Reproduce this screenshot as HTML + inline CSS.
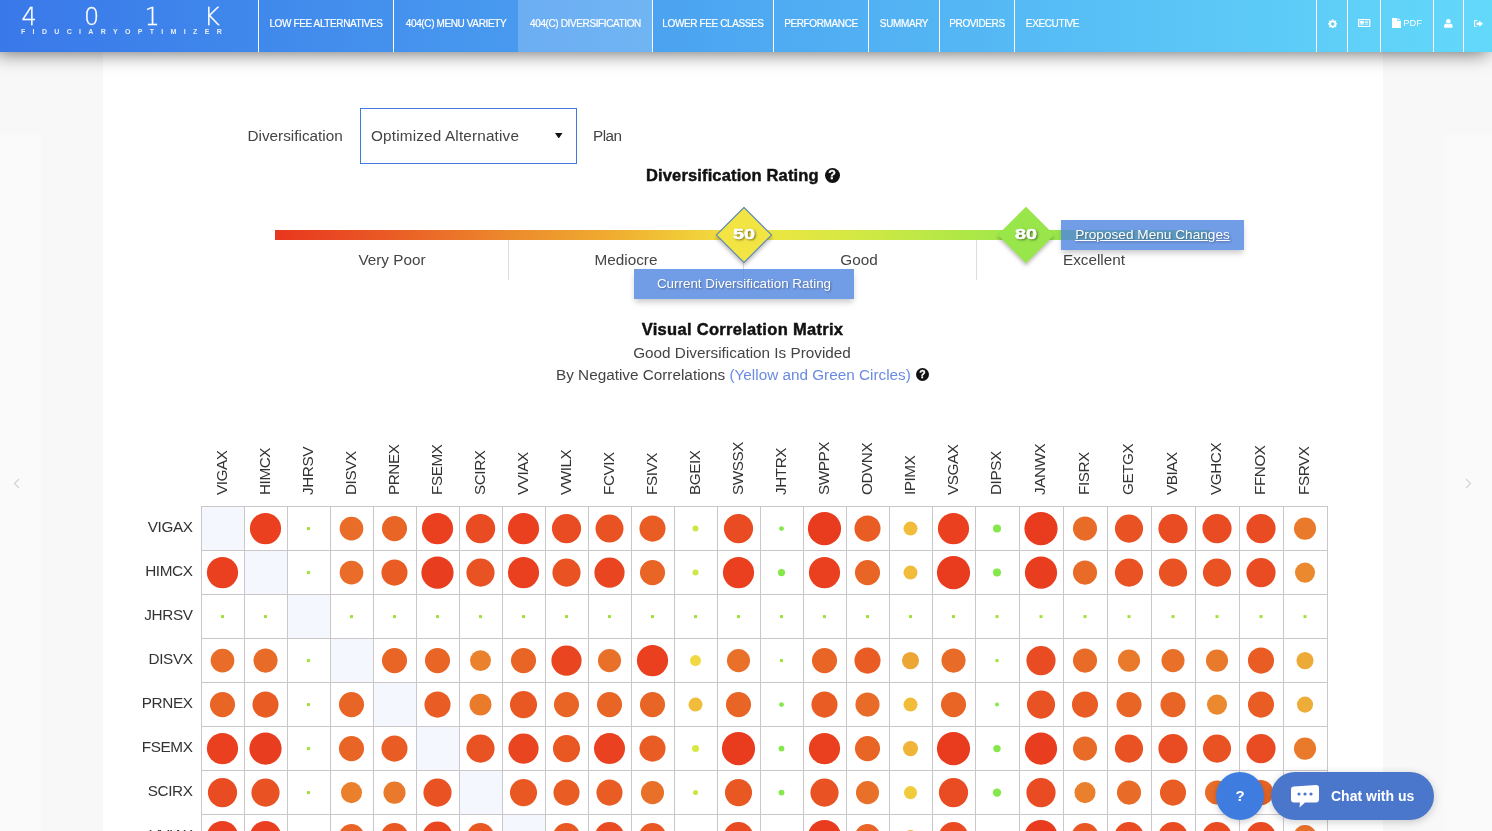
<!DOCTYPE html>
<html lang="en">
<head>
<meta charset="utf-8">
<title>401K Fiduciary Optimizer - 404(c) Diversification</title>
<style>
html,body{margin:0;padding:0;}
body{width:1492px;height:831px;overflow:hidden;position:relative;background:#f8f8f8;font-family:"Liberation Sans",sans-serif;color:#444;}
.abs{position:absolute;}
#page{position:absolute;left:103px;top:0;width:1280px;height:831px;background:#fff;}
#lp{position:absolute;left:0;top:135px;width:41px;height:696px;background:#fafafa;}
#rp{position:absolute;left:1444px;top:135px;width:48px;height:696px;background:#fafafa;}
#hdr{position:absolute;left:0;top:0;width:1492px;height:52px;background:linear-gradient(90deg,#3978e9 0%,#63d9fa 100%);box-shadow:-4px 0 20px 0 rgba(0,0,0,.66);z-index:10;}
.logo1{position:absolute;left:0;top:2px;font-family:"DejaVu Sans","Liberation Sans",sans-serif;font-weight:200;font-size:24px;line-height:30px;color:#fff;white-space:nowrap;-webkit-text-stroke:.3px #fff;}
.logo1 span{position:absolute;top:0;}
.logo2{position:absolute;left:21px;top:27px;font-size:7px;line-height:10px;font-weight:bold;color:#e8eefc;letter-spacing:7.34px;white-space:nowrap;}
.nv{position:absolute;top:0;height:52px;box-sizing:border-box;border-left:1px solid #fff;color:#fff;font-size:10px;line-height:47px;text-align:center;white-space:nowrap;letter-spacing:-0.38px;-webkit-text-stroke:.2px #fff;}
.nv.act{background:rgba(255,255,255,.2);border-left-color:transparent;}
.ic{position:absolute;top:0;height:52px;box-sizing:border-box;border-left:1px solid #fff;}
.ic svg{position:absolute;}
.t16{font-size:15.3px;line-height:20px;white-space:nowrap;color:#444;}
.hd{font-weight:bold;font-size:16.5px;line-height:20px;color:#111;white-space:nowrap;-webkit-text-stroke:.45px #111;}
.sel{position:absolute;left:360px;top:108px;width:217px;height:56px;box-sizing:border-box;border:1px solid #3f7ad8;background:#fff;}
#bar{position:absolute;left:275px;top:230px;width:936px;height:10px;background:linear-gradient(90deg,#e8361f 0%,#ea5a25 12%,#ec8a2c 25%,#f0b030 37%,#f1d83c 47%,#eee640 52%,#d4e843 62%,#b4e846 72%,#9ce84a 80%,#92e84c 100%);}
.dv{position:absolute;top:240px;width:1px;height:40px;background:#ddd;}
.dia{position:absolute;width:40px;height:40px;box-sizing:border-box;transform:rotate(45deg);box-shadow:2px 2px 4px rgba(0,0,0,.25);}
.num{position:absolute;width:60px;text-align:center;font-weight:bold;font-size:14.8px;line-height:20px;color:#fff;text-shadow:1px 1px 2px rgba(0,0,0,.6);-webkit-text-stroke:.5px #fff;transform:scaleX(1.34);}
.tag{position:absolute;height:30px;background:rgba(77,131,224,.8);color:#fff;font-size:13.4px;line-height:29px;text-align:center;white-space:nowrap;text-shadow:1px 1px 2px rgba(0,0,0,.35);box-shadow:0 4px 6px -1px rgba(0,0,0,.22);}
.ch{position:absolute;top:494.5px;letter-spacing:-.45px;font-size:15.3px;line-height:22px;color:#333;white-space:nowrap;transform:rotate(-90deg);transform-origin:0 0;}
.rh{position:absolute;left:102.5px;width:90px;text-align:right;letter-spacing:-.4px;font-size:15.3px;line-height:22px;color:#333;white-space:nowrap;}
.mx{position:absolute;}
.q{position:absolute;width:15px;height:15px;border-radius:50%;background:#111;color:#fff;font-weight:bold;font-size:12.5px;line-height:15.5px;text-align:center;-webkit-text-stroke:.3px #fff;}
#help{position:absolute;left:1216px;top:772px;width:48px;height:48px;border-radius:50%;background:#3f7ce0;color:#fff;font-weight:bold;font-size:15px;line-height:48px;text-align:center;box-shadow:0 2px 6px rgba(0,0,0,.2);z-index:5;}
#chat{position:absolute;left:1271px;top:772px;width:163px;height:48px;border-radius:24px;background:#4a76cc;color:#fff;box-shadow:0 2px 8px rgba(0,0,0,.2);z-index:5;}
#chat span{position:absolute;left:60px;top:14px;font-weight:bold;font-size:14px;line-height:20px;white-space:nowrap;}
</style>
</head>
<body>
<div id="lp"></div><div id="rp"></div>
<div id="page"></div>

<!-- header -->
<div id="hdr">
  <div class="logo1"><span style="left:21.5px">4</span><span style="left:84px">0</span><span style="left:144.5px">1</span><span style="left:204px">K</span></div>
  <div class="logo2">FIDUCIARYOPTIMIZER</div>
<div class="nv" style="left:258px;width:135px"><span>LOW FEE ALTERNATIVES</span></div>
<div class="nv" style="left:393px;width:125px"><span>404(C) MENU VARIETY</span></div>
<div class="nv act" style="left:518px;width:134px"><span>404(C) DIVERSIFICATION</span></div>
<div class="nv" style="left:652px;width:121px"><span>LOWER FEE CLASSES</span></div>
<div class="nv" style="left:773px;width:95px"><span>PERFORMANCE</span></div>
<div class="nv" style="left:868px;width:71px"><span>SUMMARY</span></div>
<div class="nv" style="left:939px;width:75px"><span>PROVIDERS</span></div>
<div class="nv" style="left:1014px;width:76px"><span>EXECUTIVE</span></div>
  <div class="ic" style="left:1316px;width:31px"><svg style="left:10.6px;top:18.600px" width="9.400" height="9.400" viewBox="0 0 24 24"><path fill="#fff" fill-rule="evenodd" d="M10 1h4l.6 3.2 1.9.8L19.200 3.200 21.800 5.800 20 8.500l.8 1.900L24 11v3l-3.200.600-.8 1.900 1.800 2.700-2.600 2.600-2.700-1.800-1.900.8L14 24h-4l-.6-3.200-1.900-.8-2.700 1.800-2.600-2.600L4 16.500l-.8-1.900L0 14v-3l3.200-.6.800-1.900L2.200 5.800 4.800 3.200 7.500 5l1.900-.8zM12 8a4.500 4.500 0 1 0 0 9 4.500 4.500 0 0 0 0-9z"/></svg></div>
  <div class="ic" style="left:1347px;width:33px"><svg style="left:10.4px;top:18.900px" width="12.400" height="8.200" viewBox="0 0 28 22" preserveAspectRatio="none"><path fill="#fff" fill-rule="evenodd" d="M2 0h24a2 2 0 0 1 2 2v18a2 2 0 0 1-2 2H2a2 2 0 0 1-2-2V2a2 2 0 0 1 2-2zm1 3v16h22V3zm2 2h8v8H5zm10 0h8v2h-8zm0 4h8v2h-8zm0 4h8v2h-8zM5 15h8v2H5z"/></svg></div>
  <div class="ic" style="left:1380px;width:53px"><svg style="left:10.6px;top:18.300px" width="9" height="10" viewBox="0 0 20 24" preserveAspectRatio="none"><path fill="#fff" d="M0 0h12v7h8v17H0zM14 0l6 5.500h-6z"/></svg><span style="position:absolute;left:22.3px;top:17px;color:#fff;font-size:9.3px;line-height:13px">PDF</span></div>
  <div class="ic" style="left:1433px;width:30px"><svg style="left:9.900px;top:18.800px" width="8.700" height="8.800" viewBox="0 0 22 24" preserveAspectRatio="none"><path fill="#fff" d="M11 0a6 6 0 0 1 0 12 6 6 0 0 1 0-12zM5 12q6 4 12 0q5 1 5 8v2q0 2-2 2H2q-2 0-2-2v-2q0-7 5-8z"/></svg></div>
  <div class="ic" style="left:1463px;width:29px"><svg style="left:10.2px;top:19.500px" width="9" height="7.500" viewBox="0 0 24 22" preserveAspectRatio="none"><path fill="#fff" d="M9 0v3H4q-1 0-1 1v14q0 1 1 1h5v3H3q-3 0-3-3V3q0-3 3-3zM14 2l10 9-10 9v-5H7V7h7z"/></svg></div>
</div>

<!-- controls -->
<div class="abs t16" style="left:247.5px;top:126px">Diversification</div>
<div class="sel"><div class="abs t16" style="left:10px;top:17px;letter-spacing:.17px">Optimized Alternative</div><svg class="abs" style="left:194px;top:23.500px" width="7.500" height="5.500" viewBox="0 0 8 7" preserveAspectRatio="none"><path d="M0 0h8L4 7z" fill="#111"/></svg></div>
<div class="abs t16" style="left:593px;top:126px;letter-spacing:-.5px">Plan</div>

<div class="abs hd" id="h1" style="left:646px;top:165px;letter-spacing:.14px">Diversification Rating</div>
<div class="q" style="left:824.5px;top:167.5px">?</div>

<!-- rating bar -->
<div id="bar"></div>
<div class="dv" style="left:508px"></div>
<div class="dv" style="left:743px"></div>
<div class="dv" style="left:976px"></div>
<div class="abs t16" style="left:275px;width:234px;top:250px;text-align:center">Very Poor</div>
<div class="abs t16" style="left:509px;width:234px;top:250px;text-align:center">Mediocre</div>
<div class="abs t16" style="left:743px;width:232px;top:250px;text-align:center">Good</div>
<div class="abs t16" style="left:977px;width:234px;top:250px;text-align:center">Excellent</div>

<div class="tag" style="left:634px;top:269px;width:220px">Current Diversification Rating</div>
<div class="tag" style="left:1061px;top:220px;width:183px;font-size:13.65px;text-decoration:underline">Proposed Menu Changes</div>

<div class="dia" style="left:724px;top:214.500px;background:#f2e442;border:1px solid #4a7fd0"></div>
<div class="num" style="left:714.2px;top:223.600px">50</div>
<div class="dia" style="left:1006px;top:215px;background:#98e64a"></div>
<div class="num" style="left:996px;top:223.600px">80</div>

<!-- matrix heading -->
<div class="abs hd" id="h2" style="left:442.500px;width:600px;top:319.300px;text-align:center;letter-spacing:.3px">Visual Correlation Matrix</div>
<div class="abs t16" style="left:442px;width:600px;top:343px;text-align:center">Good Diversification Is Provided</div>
<div class="abs t16" style="left:556px;top:365px">By Negative Correlations <span style="color:#6a8ae2">(Yellow and Green Circles)</span></div>
<div class="q" style="left:916px;top:367.500px;width:13px;height:13px;line-height:13px;font-size:10.5px">?</div>

<!-- matrix -->
<div class="ch" style="left:210.7px">VIGAX</div>
<div class="ch" style="left:253.7px">HIMCX</div>
<div class="ch" style="left:296.7px">JHRSV</div>
<div class="ch" style="left:339.7px">DISVX</div>
<div class="ch" style="left:382.7px">PRNEX</div>
<div class="ch" style="left:425.7px">FSEMX</div>
<div class="ch" style="left:468.7px">SCIRX</div>
<div class="ch" style="left:511.7px">VVIAX</div>
<div class="ch" style="left:554.7px">VWILX</div>
<div class="ch" style="left:597.7px">FCVIX</div>
<div class="ch" style="left:640.7px">FSIVX</div>
<div class="ch" style="left:683.7px">BGEIX</div>
<div class="ch" style="left:726.7px">SWSSX</div>
<div class="ch" style="left:769.7px">JHTRX</div>
<div class="ch" style="left:812.7px">SWPPX</div>
<div class="ch" style="left:855.7px">ODVNX</div>
<div class="ch" style="left:898.7px">IPIMX</div>
<div class="ch" style="left:941.7px">VSGAX</div>
<div class="ch" style="left:985.2px">DIPSX</div>
<div class="ch" style="left:1029.2px">JANWX</div>
<div class="ch" style="left:1073.2px">FISRX</div>
<div class="ch" style="left:1117.2px">GETGX</div>
<div class="ch" style="left:1161.2px">VBIAX</div>
<div class="ch" style="left:1205.2px">VGHCX</div>
<div class="ch" style="left:1249.2px">FFNOX</div>
<div class="ch" style="left:1293.2px">FSRVX</div>
<div class="rh" style="top:516.3px">VIGAX</div>
<div class="rh" style="top:560.3px">HIMCX</div>
<div class="rh" style="top:604.3px">JHRSV</div>
<div class="rh" style="top:648.3px">DISVX</div>
<div class="rh" style="top:692.3px">PRNEX</div>
<div class="rh" style="top:736.3px">FSEMX</div>
<div class="rh" style="top:780.3px">SCIRX</div>
<div class="rh" style="top:824.3px">VVIAX</div>
<svg class="mx" style="left:201px;top:506px" width="1127" height="325" viewBox="0 0 1127 325">
<rect x="1" y="1" width="42" height="43" fill="#f4f8fe"/>
<rect x="44" y="45" width="42" height="43" fill="#f4f8fe"/>
<rect x="87" y="89" width="42" height="43" fill="#f4f8fe"/>
<rect x="130" y="133" width="42" height="43" fill="#f4f8fe"/>
<rect x="173" y="177" width="42" height="43" fill="#f4f8fe"/>
<rect x="216" y="221" width="42" height="43" fill="#f4f8fe"/>
<rect x="259" y="265" width="42" height="43" fill="#f4f8fe"/>
<rect x="302" y="309" width="42" height="43" fill="#f4f8fe"/>
<rect x="0" y="0" width="1" height="325" fill="#cbc6c8"/>
<rect x="43" y="0" width="1" height="325" fill="#cbc6c8"/>
<rect x="86" y="0" width="1" height="325" fill="#cbc6c8"/>
<rect x="129" y="0" width="1" height="325" fill="#cbc6c8"/>
<rect x="172" y="0" width="1" height="325" fill="#cbc6c8"/>
<rect x="215" y="0" width="1" height="325" fill="#cbc6c8"/>
<rect x="258" y="0" width="1" height="325" fill="#cbc6c8"/>
<rect x="301" y="0" width="1" height="325" fill="#cbc6c8"/>
<rect x="344" y="0" width="1" height="325" fill="#cbc6c8"/>
<rect x="387" y="0" width="1" height="325" fill="#cbc6c8"/>
<rect x="430" y="0" width="1" height="325" fill="#cbc6c8"/>
<rect x="473" y="0" width="1" height="325" fill="#cbc6c8"/>
<rect x="516" y="0" width="1" height="325" fill="#cbc6c8"/>
<rect x="559" y="0" width="1" height="325" fill="#cbc6c8"/>
<rect x="602" y="0" width="1" height="325" fill="#cbc6c8"/>
<rect x="645" y="0" width="1" height="325" fill="#cbc6c8"/>
<rect x="688" y="0" width="1" height="325" fill="#cbc6c8"/>
<rect x="731" y="0" width="1" height="325" fill="#cbc6c8"/>
<rect x="774" y="0" width="1" height="325" fill="#cbc6c8"/>
<rect x="818" y="0" width="1" height="325" fill="#cbc6c8"/>
<rect x="862" y="0" width="1" height="325" fill="#cbc6c8"/>
<rect x="906" y="0" width="1" height="325" fill="#cbc6c8"/>
<rect x="950" y="0" width="1" height="325" fill="#cbc6c8"/>
<rect x="994" y="0" width="1" height="325" fill="#cbc6c8"/>
<rect x="1038" y="0" width="1" height="325" fill="#cbc6c8"/>
<rect x="1082" y="0" width="1" height="325" fill="#cbc6c8"/>
<rect x="1126" y="0" width="1" height="325" fill="#cbc6c8"/>
<rect x="0" y="0" width="1127" height="1" fill="#cbc6c8"/>
<rect x="0" y="44" width="1127" height="1" fill="#cbc6c8"/>
<rect x="0" y="88" width="1127" height="1" fill="#cbc6c8"/>
<rect x="0" y="132" width="1127" height="1" fill="#cbc6c8"/>
<rect x="0" y="176" width="1127" height="1" fill="#cbc6c8"/>
<rect x="0" y="220" width="1127" height="1" fill="#cbc6c8"/>
<rect x="0" y="264" width="1127" height="1" fill="#cbc6c8"/>
<rect x="0" y="308" width="1127" height="1" fill="#cbc6c8"/>
<circle cx="64.5" cy="22.6" r="15.60" fill="#ea4020"/>
<rect x="106.0" y="21.1" width="3" height="3" fill="#9fe33a"/>
<circle cx="150.5" cy="22.6" r="11.85" fill="#e96d28"/>
<circle cx="193.5" cy="22.6" r="12.55" fill="#e96526"/>
<circle cx="236.5" cy="22.6" r="15.60" fill="#ea4020"/>
<circle cx="279.5" cy="22.6" r="14.70" fill="#e94b22"/>
<circle cx="322.5" cy="22.6" r="15.60" fill="#ea4020"/>
<circle cx="365.5" cy="22.6" r="14.60" fill="#e94c22"/>
<circle cx="408.5" cy="22.6" r="14.00" fill="#e95323"/>
<circle cx="451.5" cy="22.6" r="13.05" fill="#e95d24"/>
<circle cx="494.5" cy="22.6" r="3.00" fill="#cfe645"/>
<circle cx="537.5" cy="22.6" r="14.60" fill="#e94c22"/>
<circle cx="580.5" cy="22.6" r="2.40" fill="#84e84a"/>
<circle cx="623.5" cy="22.6" r="16.60" fill="#e93b1e"/>
<circle cx="666.5" cy="22.6" r="13.05" fill="#e95d24"/>
<circle cx="709.5" cy="22.6" r="7.00" fill="#f0bc3a"/>
<circle cx="752.5" cy="22.6" r="15.60" fill="#ea4020"/>
<circle cx="796.0" cy="22.6" r="4.00" fill="#84e84a"/>
<circle cx="840.0" cy="22.6" r="16.60" fill="#e93b1e"/>
<circle cx="884.0" cy="22.6" r="12.05" fill="#e96b28"/>
<circle cx="928.0" cy="22.6" r="14.10" fill="#e95223"/>
<circle cx="972.0" cy="22.6" r="14.60" fill="#e94c22"/>
<circle cx="1016.0" cy="22.6" r="14.60" fill="#e94c22"/>
<circle cx="1060.0" cy="22.6" r="14.60" fill="#e94c22"/>
<circle cx="1104.0" cy="22.6" r="11.05" fill="#ea7a2b"/>
<circle cx="21.5" cy="66.6" r="15.60" fill="#ea4020"/>
<rect x="106.0" y="65.1" width="3" height="3" fill="#9fe33a"/>
<circle cx="150.5" cy="66.6" r="11.85" fill="#e96d28"/>
<circle cx="193.5" cy="66.6" r="13.05" fill="#e95d24"/>
<circle cx="236.5" cy="66.6" r="16.10" fill="#e93d1f"/>
<circle cx="279.5" cy="66.6" r="14.10" fill="#e95223"/>
<circle cx="322.5" cy="66.6" r="15.60" fill="#ea4020"/>
<circle cx="365.5" cy="66.6" r="14.10" fill="#e95223"/>
<circle cx="408.5" cy="66.6" r="15.10" fill="#e94521"/>
<circle cx="451.5" cy="66.6" r="12.55" fill="#e96526"/>
<circle cx="494.5" cy="66.6" r="3.00" fill="#cfe645"/>
<circle cx="537.5" cy="66.6" r="15.60" fill="#ea4020"/>
<circle cx="580.5" cy="66.6" r="3.60" fill="#84e84a"/>
<circle cx="623.5" cy="66.6" r="15.60" fill="#ea4020"/>
<circle cx="666.5" cy="66.6" r="12.55" fill="#e96526"/>
<circle cx="709.5" cy="66.6" r="7.00" fill="#f0bc3a"/>
<circle cx="752.5" cy="66.6" r="16.60" fill="#e93b1e"/>
<circle cx="796.0" cy="66.6" r="4.00" fill="#84e84a"/>
<circle cx="840.0" cy="66.6" r="16.10" fill="#e93d1f"/>
<circle cx="884.0" cy="66.6" r="12.05" fill="#e96b28"/>
<circle cx="928.0" cy="66.6" r="14.10" fill="#e95223"/>
<circle cx="972.0" cy="66.6" r="14.10" fill="#e95223"/>
<circle cx="1016.0" cy="66.6" r="14.10" fill="#e95223"/>
<circle cx="1060.0" cy="66.6" r="14.60" fill="#e94c22"/>
<circle cx="1104.0" cy="66.6" r="10.05" fill="#eb892e"/>
<rect x="20.0" y="109.1" width="3" height="3" fill="#9fe33a"/>
<rect x="63.0" y="109.1" width="3" height="3" fill="#9fe33a"/>
<rect x="149.0" y="109.1" width="3" height="3" fill="#9fe33a"/>
<rect x="192.0" y="109.1" width="3" height="3" fill="#9fe33a"/>
<rect x="235.0" y="109.1" width="3" height="3" fill="#9fe33a"/>
<rect x="278.0" y="109.1" width="3" height="3" fill="#9fe33a"/>
<rect x="321.0" y="109.1" width="3" height="3" fill="#9fe33a"/>
<rect x="364.0" y="109.1" width="3" height="3" fill="#9fe33a"/>
<rect x="407.0" y="109.1" width="3" height="3" fill="#9fe33a"/>
<rect x="450.0" y="109.1" width="3" height="3" fill="#9fe33a"/>
<rect x="493.0" y="109.1" width="3" height="3" fill="#9fe33a"/>
<rect x="536.0" y="109.1" width="3" height="3" fill="#9fe33a"/>
<rect x="579.0" y="109.1" width="3" height="3" fill="#9fe33a"/>
<rect x="622.0" y="109.1" width="3" height="3" fill="#9fe33a"/>
<rect x="665.0" y="109.1" width="3" height="3" fill="#9fe33a"/>
<rect x="708.0" y="109.1" width="3" height="3" fill="#9fe33a"/>
<rect x="751.0" y="109.1" width="3" height="3" fill="#9fe33a"/>
<rect x="794.5" y="109.1" width="3" height="3" fill="#9fe33a"/>
<rect x="838.5" y="109.1" width="3" height="3" fill="#9fe33a"/>
<rect x="882.5" y="109.1" width="3" height="3" fill="#9fe33a"/>
<rect x="926.5" y="109.1" width="3" height="3" fill="#9fe33a"/>
<rect x="970.5" y="109.1" width="3" height="3" fill="#9fe33a"/>
<rect x="1014.5" y="109.1" width="3" height="3" fill="#9fe33a"/>
<rect x="1058.5" y="109.1" width="3" height="3" fill="#9fe33a"/>
<rect x="1102.5" y="109.1" width="3" height="3" fill="#9fe33a"/>
<circle cx="21.5" cy="154.6" r="11.85" fill="#e96d28"/>
<circle cx="64.5" cy="154.6" r="12.05" fill="#e96b28"/>
<rect x="106.0" y="153.1" width="3" height="3" fill="#9fe33a"/>
<circle cx="193.5" cy="154.6" r="12.55" fill="#e96526"/>
<circle cx="236.5" cy="154.6" r="12.55" fill="#e96526"/>
<circle cx="279.5" cy="154.6" r="10.45" fill="#ea812c"/>
<circle cx="322.5" cy="154.6" r="12.55" fill="#e96526"/>
<circle cx="365.5" cy="154.6" r="15.10" fill="#e94521"/>
<circle cx="408.5" cy="154.6" r="11.55" fill="#e97029"/>
<circle cx="451.5" cy="154.6" r="15.60" fill="#ea4020"/>
<circle cx="494.5" cy="154.6" r="5.50" fill="#f0d840"/>
<circle cx="537.5" cy="154.6" r="11.55" fill="#e97029"/>
<rect x="579.0" y="153.1" width="3" height="3" fill="#9fe33a"/>
<circle cx="623.5" cy="154.6" r="12.55" fill="#e96526"/>
<circle cx="666.5" cy="154.6" r="13.05" fill="#e95d24"/>
<circle cx="709.5" cy="154.6" r="8.55" fill="#eca634"/>
<circle cx="752.5" cy="154.6" r="12.05" fill="#e96b28"/>
<rect x="794.5" y="153.1" width="3" height="3" fill="#9fe33a"/>
<circle cx="840.0" cy="154.6" r="14.60" fill="#e94c22"/>
<circle cx="884.0" cy="154.6" r="12.05" fill="#e96b28"/>
<circle cx="928.0" cy="154.6" r="11.05" fill="#ea7a2b"/>
<circle cx="972.0" cy="154.6" r="11.55" fill="#e97029"/>
<circle cx="1016.0" cy="154.6" r="11.05" fill="#ea7a2b"/>
<circle cx="1060.0" cy="154.6" r="13.05" fill="#e95d24"/>
<circle cx="1104.0" cy="154.6" r="8.55" fill="#eeaa36"/>
<circle cx="21.5" cy="198.6" r="12.55" fill="#e96526"/>
<circle cx="64.5" cy="198.6" r="13.05" fill="#e95d24"/>
<rect x="106.0" y="197.1" width="3" height="3" fill="#9fe33a"/>
<circle cx="150.5" cy="198.6" r="12.55" fill="#e96526"/>
<circle cx="236.5" cy="198.6" r="13.05" fill="#e95d24"/>
<circle cx="279.5" cy="198.6" r="10.95" fill="#ea7b2b"/>
<circle cx="322.5" cy="198.6" r="13.55" fill="#e95823"/>
<circle cx="365.5" cy="198.6" r="12.55" fill="#e96526"/>
<circle cx="408.5" cy="198.6" r="12.55" fill="#e96526"/>
<circle cx="451.5" cy="198.6" r="12.55" fill="#e96526"/>
<circle cx="494.5" cy="198.6" r="7.00" fill="#f0bc3a"/>
<circle cx="537.5" cy="198.6" r="12.55" fill="#e96526"/>
<circle cx="580.5" cy="198.6" r="2.40" fill="#84e84a"/>
<circle cx="623.5" cy="198.6" r="13.05" fill="#e95d24"/>
<circle cx="666.5" cy="198.6" r="12.05" fill="#e96b28"/>
<circle cx="709.5" cy="198.6" r="7.00" fill="#f0bc3a"/>
<circle cx="752.5" cy="198.6" r="12.55" fill="#e96526"/>
<circle cx="796.0" cy="198.6" r="2.00" fill="#84e84a"/>
<circle cx="840.0" cy="198.6" r="14.10" fill="#e95223"/>
<circle cx="884.0" cy="198.6" r="13.05" fill="#e95d24"/>
<circle cx="928.0" cy="198.6" r="12.55" fill="#e96526"/>
<circle cx="972.0" cy="198.6" r="12.55" fill="#e96526"/>
<circle cx="1016.0" cy="198.6" r="10.05" fill="#eb892e"/>
<circle cx="1060.0" cy="198.6" r="13.05" fill="#e95d24"/>
<circle cx="1104.0" cy="198.6" r="8.05" fill="#eeac38"/>
<circle cx="21.5" cy="242.6" r="15.60" fill="#ea4020"/>
<circle cx="64.5" cy="242.6" r="16.10" fill="#e93d1f"/>
<rect x="106.0" y="241.1" width="3" height="3" fill="#9fe33a"/>
<circle cx="150.5" cy="242.6" r="12.55" fill="#e96526"/>
<circle cx="193.5" cy="242.6" r="13.05" fill="#e95d24"/>
<circle cx="279.5" cy="242.6" r="14.10" fill="#e95223"/>
<circle cx="322.5" cy="242.6" r="15.10" fill="#e94521"/>
<circle cx="365.5" cy="242.6" r="13.55" fill="#e95823"/>
<circle cx="408.5" cy="242.6" r="15.50" fill="#ea4120"/>
<circle cx="451.5" cy="242.6" r="13.05" fill="#e95d24"/>
<circle cx="494.5" cy="242.6" r="3.50" fill="#d8e840"/>
<circle cx="537.5" cy="242.6" r="16.60" fill="#e93b1e"/>
<circle cx="580.5" cy="242.6" r="2.90" fill="#84e84a"/>
<circle cx="623.5" cy="242.6" r="15.60" fill="#ea4020"/>
<circle cx="666.5" cy="242.6" r="12.55" fill="#e96526"/>
<circle cx="709.5" cy="242.6" r="7.55" fill="#efb438"/>
<circle cx="752.5" cy="242.6" r="16.60" fill="#e93b1e"/>
<circle cx="796.0" cy="242.6" r="3.70" fill="#84e84a"/>
<circle cx="840.0" cy="242.6" r="16.10" fill="#e93d1f"/>
<circle cx="884.0" cy="242.6" r="12.05" fill="#e96b28"/>
<circle cx="928.0" cy="242.6" r="14.10" fill="#e95223"/>
<circle cx="972.0" cy="242.6" r="14.60" fill="#e94c22"/>
<circle cx="1016.0" cy="242.6" r="14.10" fill="#e95223"/>
<circle cx="1060.0" cy="242.6" r="14.60" fill="#e94c22"/>
<circle cx="1104.0" cy="242.6" r="11.05" fill="#ea7a2b"/>
<circle cx="21.5" cy="286.6" r="14.60" fill="#e94c22"/>
<circle cx="64.5" cy="286.6" r="14.10" fill="#e95223"/>
<rect x="106.0" y="285.1" width="3" height="3" fill="#9fe33a"/>
<circle cx="150.5" cy="286.6" r="10.55" fill="#ea7f2c"/>
<circle cx="193.5" cy="286.6" r="11.05" fill="#ea7a2b"/>
<circle cx="236.5" cy="286.6" r="14.10" fill="#e95223"/>
<circle cx="322.5" cy="286.6" r="13.55" fill="#e95823"/>
<circle cx="365.5" cy="286.6" r="13.05" fill="#e95d24"/>
<circle cx="408.5" cy="286.6" r="13.05" fill="#e95d24"/>
<circle cx="451.5" cy="286.6" r="11.55" fill="#e97029"/>
<circle cx="494.5" cy="286.6" r="2.50" fill="#c4e840"/>
<circle cx="537.5" cy="286.6" r="13.55" fill="#e95823"/>
<circle cx="580.5" cy="286.6" r="2.90" fill="#84e84a"/>
<circle cx="623.5" cy="286.6" r="14.10" fill="#e95223"/>
<circle cx="666.5" cy="286.6" r="11.55" fill="#e97029"/>
<circle cx="709.5" cy="286.6" r="6.55" fill="#f0cc3c"/>
<circle cx="752.5" cy="286.6" r="14.60" fill="#e94c22"/>
<circle cx="796.0" cy="286.6" r="4.20" fill="#84e84a"/>
<circle cx="840.0" cy="286.6" r="14.60" fill="#e94c22"/>
<circle cx="884.0" cy="286.6" r="10.55" fill="#ea7f2c"/>
<circle cx="928.0" cy="286.6" r="12.05" fill="#e96b28"/>
<circle cx="972.0" cy="286.6" r="13.05" fill="#e95d24"/>
<circle cx="1016.0" cy="286.6" r="12.00" fill="#e96c28"/>
<circle cx="1060.0" cy="286.6" r="12.50" fill="#e96626"/>
<circle cx="1104.0" cy="286.6" r="9.50" fill="#ec9430"/>
<circle cx="21.5" cy="330.6" r="15.70" fill="#ea3f20"/>
<circle cx="64.5" cy="330.6" r="15.70" fill="#ea3f20"/>
<rect x="106.0" y="329.1" width="3" height="3" fill="#9fe33a"/>
<circle cx="150.5" cy="330.6" r="12.60" fill="#e96426"/>
<circle cx="193.5" cy="330.6" r="13.65" fill="#e95723"/>
<circle cx="236.5" cy="330.6" r="15.10" fill="#e94521"/>
<circle cx="279.5" cy="330.6" r="13.60" fill="#e95723"/>
<circle cx="365.5" cy="330.6" r="13.60" fill="#e95723"/>
<circle cx="408.5" cy="330.6" r="14.60" fill="#e94c22"/>
<circle cx="451.5" cy="330.6" r="13.60" fill="#e95723"/>
<circle cx="494.5" cy="330.6" r="2.50" fill="#cfe645"/>
<circle cx="537.5" cy="330.6" r="14.60" fill="#e94c22"/>
<circle cx="580.5" cy="330.6" r="2.50" fill="#84e84a"/>
<circle cx="623.5" cy="330.6" r="16.65" fill="#e93b1e"/>
<circle cx="666.5" cy="330.6" r="12.60" fill="#e96426"/>
<circle cx="709.5" cy="330.6" r="6.60" fill="#f0bc3a"/>
<circle cx="752.5" cy="330.6" r="14.60" fill="#e94c22"/>
<circle cx="796.0" cy="330.6" r="3.50" fill="#84e84a"/>
<circle cx="840.0" cy="330.6" r="16.65" fill="#e93b1e"/>
<circle cx="884.0" cy="330.6" r="13.60" fill="#e95723"/>
<circle cx="928.0" cy="330.6" r="14.60" fill="#e94c22"/>
<circle cx="972.0" cy="330.6" r="14.60" fill="#e94c22"/>
<circle cx="1016.0" cy="330.6" r="14.60" fill="#e94c22"/>
<circle cx="1060.0" cy="330.6" r="14.60" fill="#e94c22"/>
<circle cx="1104.0" cy="330.6" r="11.60" fill="#e97029"/>
</svg>

<!-- side arrows -->
<svg class="abs" style="left:13px;top:478px" width="7" height="11" viewBox="0 0 7 11"><path d="M6 1L1.500 5.500 6 10" fill="none" stroke="#d4d4d4" stroke-width="1.3"/></svg>
<svg class="abs" style="left:1465px;top:478px" width="7" height="11" viewBox="0 0 7 11"><path d="M1 1l4.500 4.500L1 10" fill="none" stroke="#d4d4d4" stroke-width="1.3"/></svg>

<!-- floating buttons -->
<div id="help">?</div>
<div id="chat"><svg class="abs" style="left:20px;top:13px" width="28" height="23" viewBox="0 0 28 23"><path fill="#fff" d="M3 1.500L25 0q3 0 3 3v11.500q0 3-3 3H14L8.500 22.500 9 17.500H3q-3 0-3-3V4.500q0-3 3-3z"/><circle cx="8" cy="9" r="1.600" fill="#4a76cc"/><circle cx="14" cy="9" r="1.600" fill="#4a76cc"/><circle cx="20" cy="9" r="1.600" fill="#4a76cc"/></svg><span>Chat with us</span></div>
</body>
</html>
